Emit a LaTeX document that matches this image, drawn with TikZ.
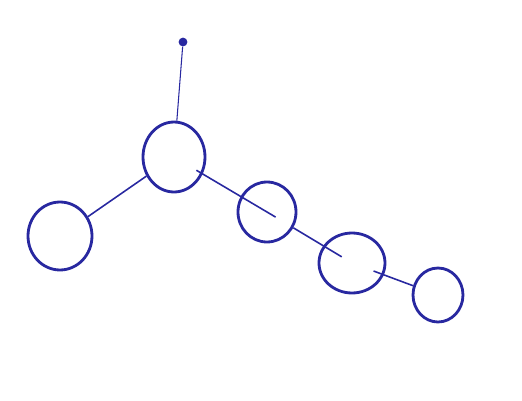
\documentclass[tikz,border=0pt]{standalone}
\usepackage{tikz}
\usetikzlibrary{shapes.geometric}
\definecolor{pen}{RGB}{40,40,160}

\begin{document}
\begin{tikzpicture}[
  x=0.02cm, y=-0.02cm,
  knot/.style={draw=pen, ellipse, line width=1.6pt, inner sep=0pt},
  tip/.style={fill=pen, circle, inner sep=0pt, minimum size=5pt},
  link/.style={draw=pen, line width=0.9pt},
]
\useasboundingbox (0,0) rectangle (522,400);

% root and chain of knots
\node[tip] (T) at (183,42) {};
\node[knot, minimum width=1.24cm, minimum height=1.40cm] (C1) at (174,157) {};
\node[knot, minimum width=1.28cm, minimum height=1.36cm] (C2) at (60,236) {};
\node[knot, minimum width=1.16cm, minimum height=1.20cm] (C3) at (267,212) {};
\node[knot, minimum width=1.32cm, minimum height=1.20cm] (C4) at (352,263) {};
\node[knot, minimum width=1.00cm, minimum height=1.08cm] (C5) at (438,295) {};

% links
\draw[link, line width=0.6pt] (T) -- (C1);
\draw[link] (C2) -- (C1);
\draw[link, shorten <=0.52cm, shorten >=-0.2cm] (C1.center) -- (C3.center);
\draw[link, shorten >=0.24cm] (C3) -- (C4.center);
\draw[link, shorten <=0.46cm] (C4.center) -- (C5);
\end{tikzpicture}
\end{document}
